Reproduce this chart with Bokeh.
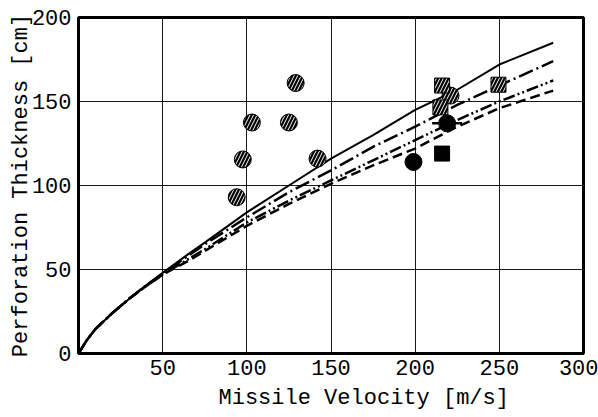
from bokeh.plotting import figure
from bokeh.models import FixedTicker, Title
from bokeh.embed import file_html
from bokeh.resources import INLINE

# ---- data ----
velocity = [0, 5, 10, 20, 30, 40, 50, 65, 75, 100, 125, 150, 175, 200, 225, 250, 282]
curve_solid = [0, 8, 14.5, 24, 32.5, 40.5, 48, 59, 66, 84, 100, 116, 130, 145, 157, 172, 185]
curve_dashdot = [0, 8, 14.5, 24, 32.5, 40.5, 47.5, 58, 65, 81, 96, 109, 123, 135, 148, 159.5, 174]
curve_dashdotdot = [0, 8, 14.5, 24, 32.5, 40, 47, 56, 62, 78, 91, 103, 115, 127, 139, 150, 162.5]
curve_dashed = [0, 8, 14.5, 24, 32.5, 40, 47, 55, 61, 76, 89, 101, 112, 122, 135, 146, 156.5]

hatched_circle_v = [129, 103, 125, 97.6, 142, 94, 221]
hatched_circle_t = [161, 137.5, 137.5, 115.5, 116, 93, 153.5]
hatched_square_v = [216, 215, 249.5]
hatched_square_t = [159.5, 146.5, 160]
filled_circle_v = [199, 219]
filled_circle_t = [114, 137]
barred_circle_v = [219]
barred_circle_t = [137]
filled_square_v = [216]
filled_square_t = [119]

x_ticks = [50, 100, 150, 200, 250, 300]
y_ticks = [0, 50, 100, 150, 200]

MONO = "Liberation Mono"

p = figure(width=598, height=417, x_range=(0, 300), y_range=(0, 200),
           output_backend="svg", toolbar_location=None,
           min_border_left=78, min_border_right=15, min_border_top=17, min_border_bottom=64)

p.background_fill_color = "white"
p.border_fill_color = "white"
p.outline_line_color = "black"
p.outline_line_width = 3

for ax in (p.xaxis, p.yaxis):
    ax.axis_line_color = None
    ax.major_tick_line_color = None
    ax.minor_tick_line_color = None
    ax.major_label_text_font = MONO
    ax.major_label_text_font_size = "22px"
    ax.major_label_text_color = "black"
    ax.axis_label_text_font = MONO
    ax.axis_label_text_font_size = "22px"
    ax.axis_label_text_font_style = "normal"
    ax.axis_label_text_color = "black"

p.xaxis.ticker = FixedTicker(ticks=x_ticks)
p.yaxis.ticker = FixedTicker(ticks=y_ticks)
p.xaxis.major_label_standoff = 0
p.yaxis.major_label_standoff = 1
p.yaxis.axis_label = "Perforation Thickness [cm]"
p.yaxis.axis_label_standoff = -5

p.add_layout(Title(text="Missile Velocity [m/s]", align="left", offset=140,
                   text_font=MONO, text_font_size="22px", text_font_style="normal",
                   text_color="black", standoff=12, text_line_height=0.6), "below")

p.xgrid.ticker = FixedTicker(ticks=[50, 100, 150, 200, 250])
p.ygrid.ticker = FixedTicker(ticks=[50, 100, 150])
for g in (p.xgrid, p.ygrid):
    g.grid_line_color = "black"
    g.grid_line_width = 1
    g.grid_line_alpha = 0.9

# curves
p.line(velocity, curve_solid, line_color="black", line_width=2)
p.line(velocity, curve_dashdot, line_color="black", line_width=2.5, line_dash="15 4 2 4")
p.line(velocity, curve_dashdotdot, line_color="black", line_width=2.5, line_dash="12 3 2 3 2 3")
p.line(velocity, curve_dashed, line_color="black", line_width=2.5, line_dash="10 5")

# markers
hatch_kw = dict(fill_color="black", line_color="black", line_width=1,
                hatch_pattern="/", hatch_color="white", hatch_scale=7, hatch_weight=1)
p.scatter(hatched_circle_v, hatched_circle_t, marker="circle", size=17, **hatch_kw)
p.scatter(hatched_square_v, hatched_square_t, marker="square", size=15, **hatch_kw)
p.scatter(filled_circle_v, filled_circle_t, marker="circle", size=17,
          fill_color="black", line_color="black")
p.scatter(barred_circle_v, barred_circle_t, marker="dash", size=30,
          line_color="black", line_width=2.5)
p.scatter(filled_square_v, filled_square_t, marker="square", size=15,
          fill_color="black", line_color="black")

open("out.html", "w").write(file_html(p, INLINE))
